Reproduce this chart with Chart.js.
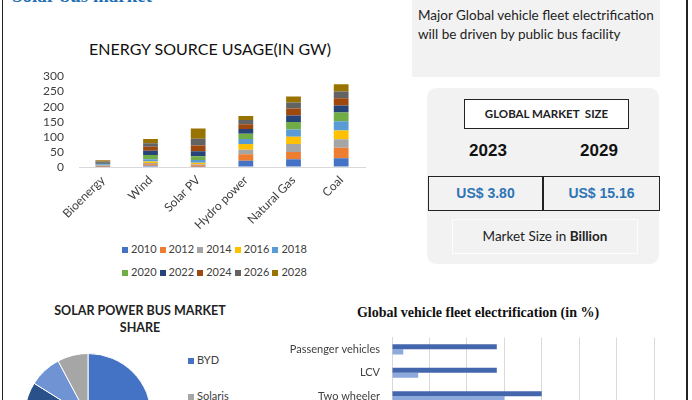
<!DOCTYPE html>
<html>
<head>
<meta charset="utf-8">
<script src="https://cdn.jsdelivr.net/npm/chart.js@4.4.1/dist/chart.umd.min.js"></script>
<style>
  body { margin: 0; width: 692px; height: 400px; overflow: hidden; background: #fff; position: relative; font-family: Lato, "Liberation Sans", sans-serif; }
  .abs { position: absolute; }
  canvas { position: absolute; }
  .legend-item { position: absolute; font-size: 11px; color: #404040; white-space: nowrap; }
  .legend-item i { display: inline-block; width: 6px; height: 6px; margin-right: 3px; vertical-align: 0px; }
</style>
</head>
<body>
<div class="abs" style="left:2px;top:0;width:1px;height:400px;background:#222"></div>
<div class="abs" style="left:686px;top:0;width:1.5px;height:400px;background:#222"></div>

<div class="abs" style="left:12px;top:-15px;font:bold 19px 'Liberation Serif',serif;color:#1f6fb2">Solar bus market</div>

<div class="abs" style="left:60px;top:39px;width:300px;text-align:center;font-size:16px;color:#111">ENERGY SOURCE USAGE(IN GW)</div>
<canvas id="energyChart" width="350" height="175" style="left:30px;top:60px"></canvas>
<div id="energyLegend"></div>

<!-- right panel -->
<div class="abs" style="left:412px;top:0;width:248px;height:77px;background:#f2f2f2"></div>
<div class="abs" style="left:418px;top:6px;font-size:13.5px;line-height:19px;color:#222">Major Global vehicle fleet electrification<br>will be driven by public bus facility</div>
<div class="abs" style="left:427px;top:88px;width:232px;height:176px;background:#f2f2f2;border-radius:9px"></div>
<div class="abs" style="left:464px;top:99px;width:163px;height:28px;background:#fff;border:1px solid #222;text-align:center;line-height:28px;font-weight:bold;font-size:11.5px;color:#222">GLOBAL MARKET&nbsp; SIZE</div>
<div class="abs" style="left:448px;top:141px;width:80px;text-align:center;font:bold 17px 'Liberation Sans',sans-serif;color:#111">2023</div>
<div class="abs" style="left:559px;top:141px;width:80px;text-align:center;font:bold 17px 'Liberation Sans',sans-serif;color:#111">2029</div>
<div class="abs" style="left:428px;top:176px;width:113px;height:33px;border:1px solid #222;text-align:center;font:bold 14px/33px 'Liberation Sans',sans-serif;color:#2e75b6">US$ 3.80</div>
<div class="abs" style="left:542px;top:176px;width:115px;height:33px;border:1px solid #222;border-left:2px solid #222;text-align:center;font:bold 14px/33px 'Liberation Sans',sans-serif;color:#2e75b6">US$ 15.16</div>
<div class="abs" style="left:452px;top:219px;width:184px;height:33px;border:1px solid #fdfdfd;text-align:center;line-height:33px;font-size:13.5px;color:#222">Market Size in <b>Billion</b></div>

<!-- pie -->
<div class="abs" style="left:40px;top:302px;width:200px;text-align:center;font-weight:bold;font-size:12.5px;line-height:17px;color:#222">SOLAR POWER BUS MARKET<br>SHARE</div>
<canvas id="pieChart" width="140" height="140" style="left:18px;top:347px"></canvas>
<div id="pieLegend"></div>

<!-- horizontal bars -->
<div class="abs" style="left:300px;top:305px;width:356px;text-align:center;font:bold 14px 'Liberation Serif',serif;color:#111">Global vehicle fleet electrification (in %)</div>
<canvas id="fleetChart" width="406" height="99" style="left:280px;top:331px"></canvas>

<script>
// energy source usage (GW), stacked by year
const categories = ['Bioenergy', 'Wind', 'Solar PV', 'Hydro power', 'Natural Gas', 'Coal'];
const years = ['2010', '2012', '2014', '2016', '2018', '2020', '2022', '2024', '2026', '2028'];
const yearColors = ['#4472c4', '#ed7d31', '#a5a5a5', '#ffc000', '#5b9bd5', '#70ad47', '#264478', '#9e480e', '#636363', '#997300'];
const v2010 = [1, 4, 1, 21, 26, 29];
const v2012 = [2, 5, 5, 21, 24, 35];
const v2014 = [3, 4, 3, 15, 26, 28];
const v2016 = [1, 5, 5, 19, 24, 29];
const v2018 = [2, 8, 9, 17, 24, 31];
const v2020 = [2, 14, 13, 17, 25, 29];
const v2022 = [4, 14, 16, 16, 22, 23];
const v2024 = [2, 13, 19, 16, 23, 24];
const v2026 = [2, 12, 23, 14, 20, 22];
const v2028 = [3, 14, 34, 13, 20, 24];
const yearSeries = [v2010, v2012, v2014, v2016, v2018, v2020, v2022, v2024, v2026, v2028];
const energyTicks = [0, 50, 100, 150, 200, 250, 300];

// solar power bus market share (clockwise from 12 o'clock)
const busMakers = ['BYD', 'Others', 'Sono Motors', 'Solaris'];
const busShare = [55.6, 28.3, 8.3, 7.8];
const busColors = ['#4472c4', '#2a5189', '#6f93d3', '#a6a6a6'];
const busLegendOrder = [0, 3, 1, 2];

// global vehicle fleet electrification (%)
const vehicleTypes = ['Passenger vehicles', 'LCV', 'Two wheeler'];
const fleetTarget = [28, 28, 40];
const fleetCurrent = [3, 7, 30];
const fleetTicks = [0, 10, 20, 30, 40, 50, 60, 70];

const font = (size, weight) => ({ family: 'Lato', size: size, weight: weight || 'normal' });

// tick padding on a vertical axis also pads the plot top, so the gap is made with an invisible tick mark
const hiddenTicks = (len) => ({ display: true, drawOnChartArea: false, drawTicks: true, tickLength: len, color: 'rgba(0,0,0,0)' });

new Chart(document.getElementById('energyChart'), {
    type: 'bar',
    data: {
        labels: categories,
        datasets: years.map((y, i) => ({
            label: y,
            data: yearSeries[i],
            backgroundColor: yearColors[i],
            categoryPercentage: 1,
            barPercentage: 0.31
        }))
    },
    options: {
        responsive: false,
        animation: false,
        layout: { padding: { left: 0, right: 15, top: 16.5, bottom: 0 } },
        plugins: { legend: { display: false }, tooltip: { enabled: false } },
        scales: {
            x: {
                stacked: true,
                grid: { display: false, drawTicks: false },
                border: { color: '#d9d9d9' },
                ticks: { minRotation: 45, maxRotation: 45, padding: 6, color: '#404040', font: font(12) },
                afterFit(s) { s.height = 68; }
            },
            y: {
                stacked: true,
                min: energyTicks[0],
                max: energyTicks[energyTicks.length - 1],
                grid: hiddenTicks(15),
                border: { display: false },
                ticks: { stepSize: 50, autoSkip: false, padding: 0, color: '#404040', font: font(12) },
                afterFit(s) { s.width = 49; }
            }
        }
    }
});

// legend for the stacked bars, two rows of five
const energyLegend = document.getElementById('energyLegend');
years.forEach((y, i) => {
    const el = document.createElement('div');
    el.className = 'legend-item';
    el.style.left = (122 + (i % 5) * 37.6) + 'px';
    el.style.top = (242 + Math.floor(i / 5) * 22.5) + 'px';
    el.innerHTML = `<i style="background:${yearColors[i]}"></i>${y}`;
    energyLegend.appendChild(el);
});

new Chart(document.getElementById('pieChart'), {
    type: 'pie',
    data: {
        labels: busMakers,
        datasets: [{ data: busShare, backgroundColor: busColors, borderColor: '#fff', borderWidth: 1 }]
    },
    options: {
        responsive: false,
        animation: false,
        layout: { padding: 6 },
        plugins: { legend: { display: false }, tooltip: { enabled: false } }
    }
});

const pieLegend = document.getElementById('pieLegend');
busLegendOrder.forEach((idx, row) => {
    const el = document.createElement('div');
    el.className = 'legend-item';
    el.style.left = '188px';
    el.style.top = (353 + row * 36) + 'px';
    el.innerHTML = `<i style="background:${busColors[idx]}"></i>${busMakers[idx]}`;
    pieLegend.appendChild(el);
});

new Chart(document.getElementById('fleetChart'), {
    type: 'bar',
    data: {
        labels: vehicleTypes,
        datasets: [
            { label: 'Target', data: fleetTarget, backgroundColor: '#4466ad', categoryPercentage: 0.43, barPercentage: 1 },
            { label: 'Current', data: fleetCurrent, backgroundColor: '#8eaadc', categoryPercentage: 0.43, barPercentage: 1 }
        ]
    },
    options: {
        indexAxis: 'y',
        responsive: false,
        animation: false,
        layout: { padding: { left: 0, right: 32, top: 0, bottom: 0 } },
        plugins: { legend: { display: false }, tooltip: { enabled: false } },
        scales: {
            x: {
                min: fleetTicks[0],
                max: fleetTicks[fleetTicks.length - 1],
                grid: { color: '#d9d9d9', drawTicks: false },
                border: { display: false },
                ticks: { stepSize: 10, color: '#404040', font: font(11) },
                afterFit(s) { s.height = 22; }
            },
            y: {
                grid: hiddenTicks(12),
                border: { color: '#d9d9d9' },
                ticks: { padding: 0, color: '#404040', font: font(11) },
                afterFit(s) { s.width = 112; }
            }
        }
    }
});
</script>
</body>
</html>
